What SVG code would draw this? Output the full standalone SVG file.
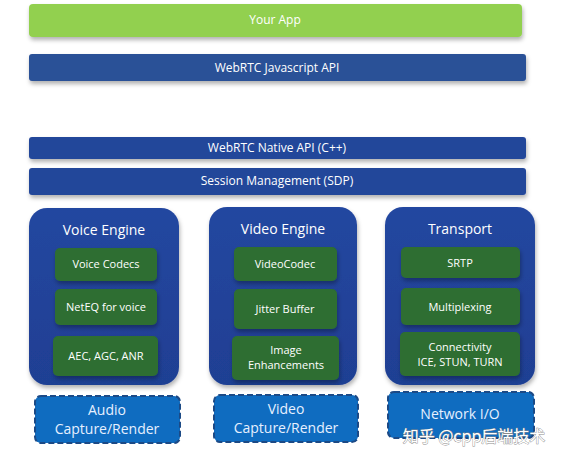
<svg xmlns="http://www.w3.org/2000/svg" width="564" height="459" viewBox="0 0 564 459">
<defs>
<filter id="sh" x="-10%" y="-20%" width="120%" height="160%">
<feDropShadow dx="1" dy="3" stdDeviation="2" flood-color="#000" flood-opacity="0.3"/>
</filter>
<linearGradient id="eng" x1="0" y1="0" x2="0" y2="1">
<stop offset="0" stop-color="#2447a0"/>
<stop offset="1" stop-color="#1f3f93"/>
</linearGradient>
</defs>
<style>
text{font-family:"Open Sans","Liberation Sans",sans-serif;fill:#fff;text-anchor:middle}
.bar{fill:#2c5197;filter:url(#sh)}
.bar2{fill:#24469a;filter:url(#sh)}
.app{fill:#92d050;filter:url(#sh)}
.eng{fill:url(#eng);filter:url(#sh)}
.mod{fill:#2d6e30;filter:url(#sh)}
.io{fill:#0f6cc0;stroke:#1c4a86;stroke-width:2;stroke-dasharray:6 3}
.t12{font-size:12px}
.t14{font-size:14px}
.t11{font-size:11px}
.io-t{font-size:14px;fill:#e6f0ff}
.wm{font-size:16px;font-family:"Noto Sans CJK SC",sans-serif;fill:#ffffff;stroke:#8a8a8a;stroke-width:0.8;paint-order:stroke}
</style>
<rect width="564" height="459" fill="#fff"/>
<g id="app"><rect class="app" x="29" y="4" width="493" height="33" rx="4"/><text class="t12" x="275" y="24" fill="#eef7e4">Your App</text></g>
<g id="jsapi"><rect class="bar" x="29" y="54" width="497" height="27" rx="3"/><text class="t12" x="277" y="72">WebRTC Javascript API</text></g>
<g id="nativeapi"><rect class="bar2" x="29" y="137" width="497" height="22" rx="3"/><text class="t12" x="277" y="152">WebRTC Native API (C++)</text></g>
<g id="session"><rect class="bar2" x="29" y="168" width="497" height="27" rx="3"/><text class="t12" x="277" y="185">Session Management (SDP)</text></g>

<g id="voice">
<rect class="eng" x="29" y="208" width="150" height="177" rx="18"/>
<text class="t14" x="104" y="235">Voice Engine</text>
<g id="voicecodecs"><rect class="mod" x="55" y="248" width="102" height="33" rx="5"/><text class="t11" x="106" y="268">Voice Codecs</text></g>
<g id="neteq"><rect class="mod" x="55" y="289" width="102" height="36" rx="5"/><text class="t11" x="106" y="311">NetEQ for voice</text></g>
<g id="aec"><rect class="mod" x="53" y="336" width="105" height="40" rx="5"/><text class="t11" x="106" y="360">AEC, AGC, ANR</text></g>
</g>
<g id="audio"><rect class="io" x="35" y="396" width="145" height="47" rx="6"/><text class="io-t" x="107" y="415">Audio</text><text class="io-t" x="107" y="434">Capture/Render</text></g>

<g id="video">
<rect class="eng" x="209" y="207" width="148" height="178" rx="18"/>
<text class="t14" x="283" y="234">Video Engine</text>
<g id="videocodec"><rect class="mod" x="234" y="247" width="103" height="34" rx="5"/><text class="t11" x="285" y="268">VideoCodec</text></g>
<g id="jitter"><rect class="mod" x="234" y="289" width="103" height="40" rx="5"/><text class="t11" x="285" y="313">Jitter Buffer</text></g>
<g id="image"><rect class="mod" x="232" y="336" width="107" height="44" rx="5"/><text class="t11" x="286" y="354">Image</text><text class="t11" x="286" y="369">Enhancements</text></g>
</g>
<g id="videoio"><rect class="io" x="214" y="395" width="144" height="47" rx="6"/><text class="io-t" x="286" y="414">Video</text><text class="io-t" x="286" y="433">Capture/Render</text></g>

<g id="transport">
<rect class="eng" x="385" y="207" width="150" height="178" rx="18"/>
<text class="t14" x="460" y="234">Transport</text>
<g id="srtp"><rect class="mod" x="401" y="247" width="119" height="31" rx="5"/><text class="t11" x="460" y="267">SRTP</text></g>
<g id="mux"><rect class="mod" x="401" y="288" width="119" height="37" rx="5"/><text class="t11" x="460" y="311">Multiplexing</text></g>
<g id="conn"><rect class="mod" x="400" y="332" width="120" height="44" rx="5"/><text class="t11" x="460" y="351">Connectivity</text><text class="t11" x="460" y="366">ICE, STUN, TURN</text></g>
</g>
<g id="network"><rect class="io" x="388" y="392" width="146" height="46" rx="6"/><text class="io-t" x="460" y="419">Network I/O</text></g>
<text class="wm" x="474" y="442">知乎 @cpp后端技术</text>
</svg>
